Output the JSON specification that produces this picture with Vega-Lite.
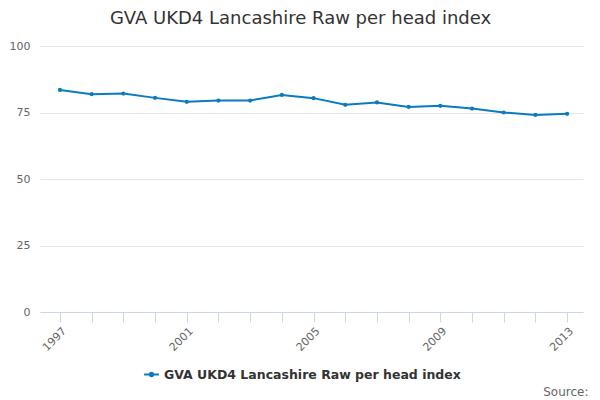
{
  "$schema": "https://vega.github.io/schema/vega-lite/v6.json",
  "autosize": "none",
  "width": 543,
  "height": 266,
  "padding": {"left": 40, "top": 46, "right": 17, "bottom": 88},
  "background": "#ffffff",
  "config": {
    "font": "DejaVu Sans",
    "view": {"stroke": null}
  },
  "title": {
    "text": "GVA UKD4 Lancashire Raw per head index",
    "fontSize": 18,
    "fontWeight": "normal",
    "color": "#333333",
    "anchor": "middle",
    "dx": -11,
    "offset": 12
  },
  "data": {
    "values": [
      {"year": 1997, "value": 83.5, "series": "GVA UKD4 Lancashire Raw per head index"},
      {"year": 1998, "value": 81.9, "series": "GVA UKD4 Lancashire Raw per head index"},
      {"year": 1999, "value": 82.1, "series": "GVA UKD4 Lancashire Raw per head index"},
      {"year": 2000, "value": 80.5, "series": "GVA UKD4 Lancashire Raw per head index"},
      {"year": 2001, "value": 79.0, "series": "GVA UKD4 Lancashire Raw per head index"},
      {"year": 2002, "value": 79.5, "series": "GVA UKD4 Lancashire Raw per head index"},
      {"year": 2003, "value": 79.5, "series": "GVA UKD4 Lancashire Raw per head index"},
      {"year": 2004, "value": 81.6, "series": "GVA UKD4 Lancashire Raw per head index"},
      {"year": 2005, "value": 80.4, "series": "GVA UKD4 Lancashire Raw per head index"},
      {"year": 2006, "value": 77.9, "series": "GVA UKD4 Lancashire Raw per head index"},
      {"year": 2007, "value": 78.8, "series": "GVA UKD4 Lancashire Raw per head index"},
      {"year": 2008, "value": 77.1, "series": "GVA UKD4 Lancashire Raw per head index"},
      {"year": 2009, "value": 77.5, "series": "GVA UKD4 Lancashire Raw per head index"},
      {"year": 2010, "value": 76.5, "series": "GVA UKD4 Lancashire Raw per head index"},
      {"year": 2011, "value": 75.0, "series": "GVA UKD4 Lancashire Raw per head index"},
      {"year": 2012, "value": 74.1, "series": "GVA UKD4 Lancashire Raw per head index"},
      {"year": 2013, "value": 74.5, "series": "GVA UKD4 Lancashire Raw per head index"}
    ]
  },
  "mark": {
    "type": "line",
    "strokeWidth": 2,
    "point": {"filled": true, "size": 18}
  },
  "encoding": {
    "x": {
      "field": "year",
      "type": "quantitative",
      "scale": {"domain": [1996.37, 2013.5], "nice": false, "zero": false},
      "axis": {
        "title": "Source:",
        "titleFontSize": 12,
        "titleFontWeight": "normal",
        "titleColor": "#666666",
        "titleAnchor": "end",
        "titleAlign": "right",
        "titleBaseline": "alphabetic",
        "titleX": 548,
        "titleY": 83,
        "values": [1997, 1998, 1999, 2000, 2001, 2002, 2003, 2004, 2005, 2006, 2007, 2008, 2009, 2010, 2011, 2012, 2013],
        "labelExpr": "(datum.value - 1997) % 4 == 0 ? datum.value : ''",
        "labelAngle": -45,
        "labelAlign": "right",
        "labelBaseline": "top",
        "labelFontSize": 11,
        "labelColor": "#666666",
        "labelPadding": 3,
        "labelOverlap": false,
        "grid": false,
        "domainColor": "#ccd6eb",
        "tickColor": "#ccd6eb",
        "tickSize": 10
      }
    },
    "y": {
      "field": "value",
      "type": "quantitative",
      "scale": {"domain": [0, 100], "nice": false},
      "axis": {
        "title": null,
        "values": [0, 25, 50, 75, 100],
        "labelFontSize": 11,
        "labelColor": "#666666",
        "labelPadding": 10,
        "domain": false,
        "ticks": false,
        "gridColor": "#e6e6e6"
      }
    },
    "color": {
      "field": "series",
      "type": "nominal",
      "scale": {"range": ["#0b7bc1"]},
      "legend": {
        "title": null,
        "orient": "none",
        "legendX": 103,
        "legendY": 320,
        "labelFontSize": 12.5,
        "labelFontWeight": "bold",
        "labelColor": "#333333",
        "symbolType": "M-1,0L1,0M-0.22,0A0.22,0.22 0 1,0 0.22,0A0.22,0.22 0 1,0 -0.22,0",
        "symbolFillColor": "#0b7bc1",
        "symbolSize": 220,
        "symbolStrokeWidth": 2,
        "labelLimit": 400
      }
    }
  }
}
